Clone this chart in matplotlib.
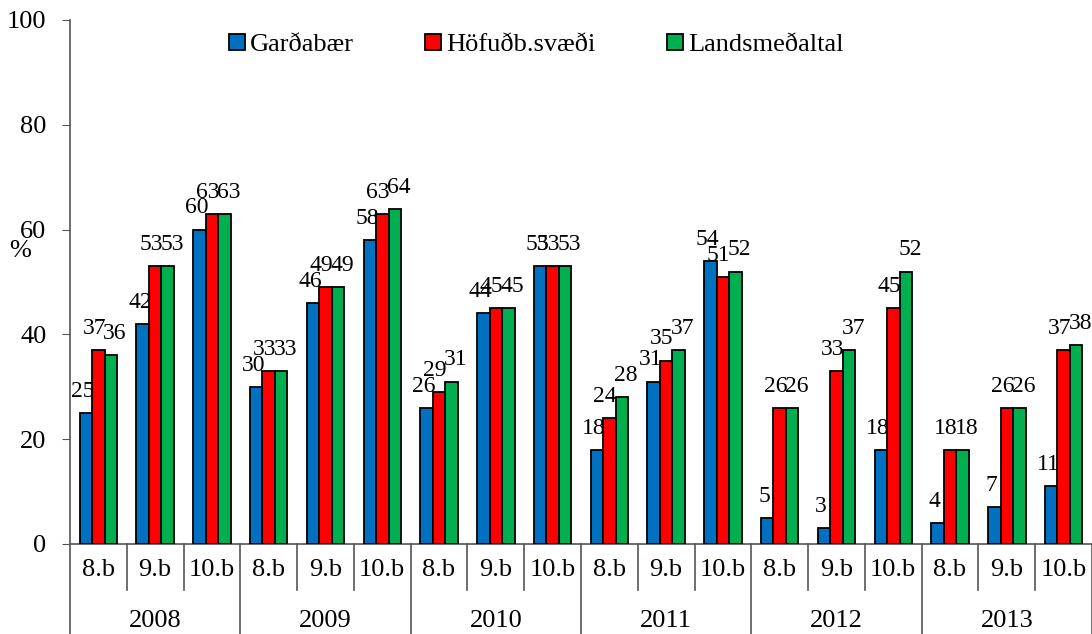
import matplotlib

matplotlib.use("Agg")

import matplotlib.pyplot as plt
import matplotlib.patches as mpatches
import matplotlib.transforms as mtransforms
import numpy as np

plt.rcParams["font.family"] = ["Liberation Serif", "DejaVu Serif"]

years = ["2008", "2009", "2010", "2011", "2012", "2013"]
grades = ["8.b", "9.b", "10.b"]
series_names = ["Garðabær", "Höfuðb.svæði", "Landsmeðaltal"]

gardabaer = [25, 42, 60, 30, 46, 58, 26, 44, 53, 18, 31, 54, 5, 3, 18, 4, 7, 11]
hofudb = [37, 53, 63, 33, 49, 63, 29, 45, 53, 24, 35, 51, 26, 33, 45, 18, 26, 37]
landsm = [36, 53, 63, 33, 49, 64, 31, 45, 53, 28, 37, 52, 26, 37, 52, 18, 26, 38]

COLORS = ["#0070C0", "#FF0000", "#00B050"]
LABEL_DX = [-2, -3, 3]  # spread labels a little, like the original
FS = 19
LABEL_FS = 17

fig = plt.figure(figsize=(10.92, 6.34), dpi=100)
ax = fig.add_axes([70 / 1092, 90 / 634, 1022 / 1092, 524 / 634])

n = len(gardabaer)
x = np.arange(n)
width = 0.22
for i, vals in enumerate([gardabaer, hofudb, landsm]):
    xs = x + (i - 1) * width
    ax.bar(xs, vals, width, color=COLORS[i], edgecolor="black", linewidth=1.3, zorder=3)
    for xi, v in zip(xs, vals):
        ax.annotate(str(v), (xi, v), textcoords="offset points", xytext=(LABEL_DX[i], 8),
                    ha="center", va="bottom", fontsize=LABEL_FS)

ax.set_xlim(-0.5, n - 0.5)
ax.set_ylim(0, 100)
ax.set_yticks(range(0, 101, 20))
ax.tick_params(axis="y", labelsize=FS, direction="out", length=6, color="#555555", pad=11)
ax.set_xticks([])

for side in ["top", "right"]:
    ax.spines[side].set_visible(False)
ax.spines["left"].set_color("#555555")
ax.spines["bottom"].set_color("#555555")
ax.spines["left"].set_linewidth(1.2)
ax.spines["bottom"].set_linewidth(1.2)

# two-level category axis
trans = mtransforms.blended_transform_factory(ax.transData, ax.transAxes)
sub_depth = -(590 - 544) / 524
year_depth = -(634 - 544) / 524
for k in range(n + 1):
    depth = year_depth if k % 3 == 0 else sub_depth
    ax.plot([k - 0.5, k - 0.5], [0, depth], color="#555555", lw=1.2,
            transform=trans, clip_on=False)
for k in range(n):
    ax.text(k, -0.05, grades[k % 3], transform=trans, ha="center", va="center", fontsize=FS)
for j, yr in enumerate(years):
    ax.text(j * 3 + 1, -0.147, yr, transform=trans, ha="center", va="center", fontsize=FS)

ax.text(-50 / 1022, 0.56, "%", transform=ax.transAxes, ha="center", va="center", fontsize=FS)

handles = [mpatches.Patch(facecolor=c, edgecolor="black", linewidth=1.3) for c in COLORS]
fig.legend(handles, series_names, loc="center left", bbox_to_anchor=(229 / 1092, 1 - 45 / 634),
           bbox_transform=fig.transFigure, ncol=3, frameon=False, fontsize=FS,
           handlelength=0.6, handleheight=0.6, handletextpad=0.2, columnspacing=2.7,
           borderpad=0, borderaxespad=0)

fig.savefig("out.png", dpi=100)
